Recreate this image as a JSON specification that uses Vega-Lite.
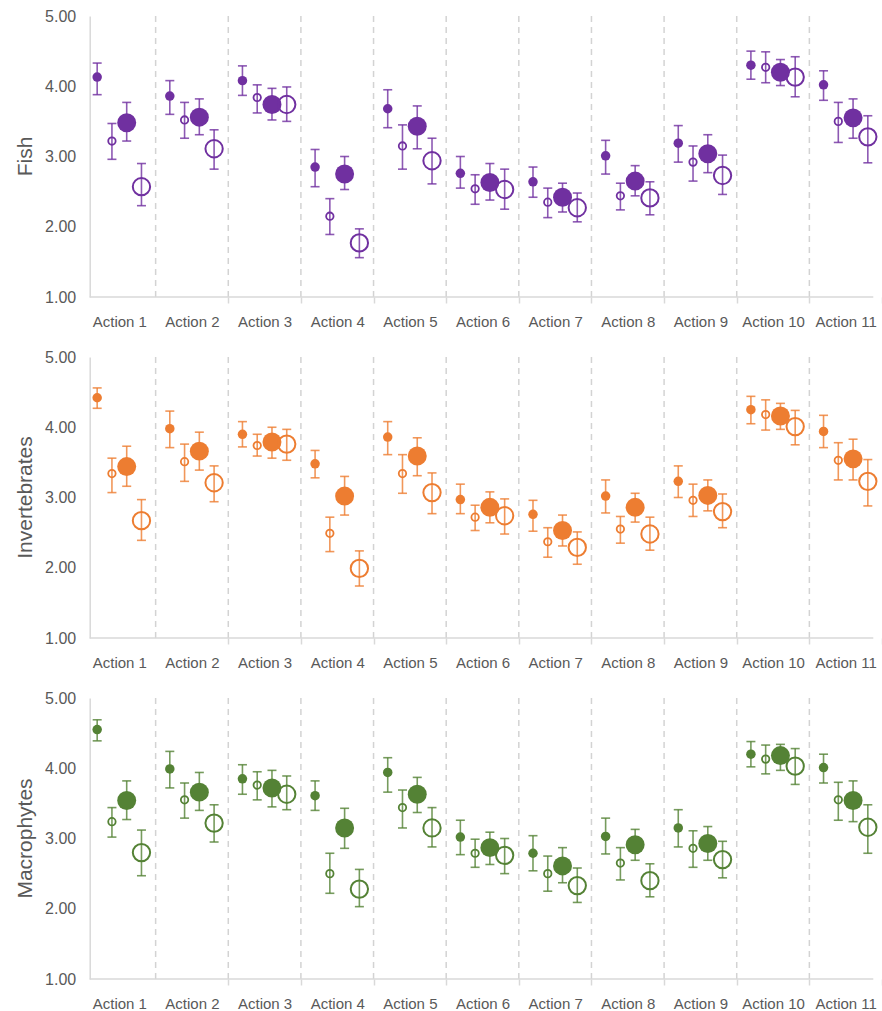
{
  "$schema": "https://vega.github.io/schema/vega-lite/v6.json",
  "padding": {"left": 14, "top": 8, "right": 0, "bottom": 3},
  "background": "white",
  "config": {"view": {"stroke": null}, "font": "Liberation Sans"},
  "data": {"values": [
    {"t":"Fish","a":"Action 1","k":"sf","m":4.13,"lo":3.88,"hi":4.33},
    {"t":"Fish","a":"Action 1","k":"so","m":3.22,"lo":2.96,"hi":3.47},
    {"t":"Fish","a":"Action 1","k":"lf","m":3.48,"lo":3.22,"hi":3.77},
    {"t":"Fish","a":"Action 1","k":"lo","m":2.57,"lo":2.30,"hi":2.90},
    {"t":"Fish","a":"Action 2","k":"sf","m":3.86,"lo":3.60,"hi":4.08},
    {"t":"Fish","a":"Action 2","k":"so","m":3.52,"lo":3.26,"hi":3.77},
    {"t":"Fish","a":"Action 2","k":"lf","m":3.56,"lo":3.31,"hi":3.82},
    {"t":"Fish","a":"Action 2","k":"lo","m":3.11,"lo":2.82,"hi":3.38},
    {"t":"Fish","a":"Action 3","k":"sf","m":4.08,"lo":3.87,"hi":4.29},
    {"t":"Fish","a":"Action 3","k":"so","m":3.84,"lo":3.62,"hi":4.02},
    {"t":"Fish","a":"Action 3","k":"lf","m":3.74,"lo":3.52,"hi":3.97},
    {"t":"Fish","a":"Action 3","k":"lo","m":3.74,"lo":3.50,"hi":3.99},
    {"t":"Fish","a":"Action 4","k":"sf","m":2.85,"lo":2.57,"hi":3.10},
    {"t":"Fish","a":"Action 4","k":"so","m":2.15,"lo":1.89,"hi":2.40},
    {"t":"Fish","a":"Action 4","k":"lf","m":2.75,"lo":2.53,"hi":3.00},
    {"t":"Fish","a":"Action 4","k":"lo","m":1.77,"lo":1.56,"hi":1.97},
    {"t":"Fish","a":"Action 5","k":"sf","m":3.68,"lo":3.41,"hi":3.95},
    {"t":"Fish","a":"Action 5","k":"so","m":3.15,"lo":2.82,"hi":3.45},
    {"t":"Fish","a":"Action 5","k":"lf","m":3.43,"lo":3.11,"hi":3.72},
    {"t":"Fish","a":"Action 5","k":"lo","m":2.94,"lo":2.61,"hi":3.26},
    {"t":"Fish","a":"Action 6","k":"sf","m":2.76,"lo":2.55,"hi":3.00},
    {"t":"Fish","a":"Action 6","k":"so","m":2.54,"lo":2.32,"hi":2.74},
    {"t":"Fish","a":"Action 6","k":"lf","m":2.63,"lo":2.38,"hi":2.90},
    {"t":"Fish","a":"Action 6","k":"lo","m":2.53,"lo":2.25,"hi":2.82},
    {"t":"Fish","a":"Action 7","k":"sf","m":2.64,"lo":2.42,"hi":2.85},
    {"t":"Fish","a":"Action 7","k":"so","m":2.35,"lo":2.13,"hi":2.55},
    {"t":"Fish","a":"Action 7","k":"lf","m":2.42,"lo":2.21,"hi":2.62},
    {"t":"Fish","a":"Action 7","k":"lo","m":2.27,"lo":2.07,"hi":2.48},
    {"t":"Fish","a":"Action 8","k":"sf","m":3.01,"lo":2.75,"hi":3.23},
    {"t":"Fish","a":"Action 8","k":"so","m":2.44,"lo":2.24,"hi":2.62},
    {"t":"Fish","a":"Action 8","k":"lf","m":2.65,"lo":2.44,"hi":2.87},
    {"t":"Fish","a":"Action 8","k":"lo","m":2.41,"lo":2.17,"hi":2.64},
    {"t":"Fish","a":"Action 9","k":"sf","m":3.19,"lo":2.92,"hi":3.44},
    {"t":"Fish","a":"Action 9","k":"so","m":2.92,"lo":2.65,"hi":3.15},
    {"t":"Fish","a":"Action 9","k":"lf","m":3.04,"lo":2.77,"hi":3.31},
    {"t":"Fish","a":"Action 9","k":"lo","m":2.73,"lo":2.46,"hi":3.02},
    {"t":"Fish","a":"Action 10","k":"sf","m":4.30,"lo":4.10,"hi":4.50},
    {"t":"Fish","a":"Action 10","k":"so","m":4.27,"lo":4.05,"hi":4.49},
    {"t":"Fish","a":"Action 10","k":"lf","m":4.20,"lo":4.01,"hi":4.38},
    {"t":"Fish","a":"Action 10","k":"lo","m":4.13,"lo":3.85,"hi":4.42},
    {"t":"Fish","a":"Action 11","k":"sf","m":4.02,"lo":3.80,"hi":4.22},
    {"t":"Fish","a":"Action 11","k":"so","m":3.50,"lo":3.20,"hi":3.77},
    {"t":"Fish","a":"Action 11","k":"lf","m":3.55,"lo":3.26,"hi":3.82},
    {"t":"Fish","a":"Action 11","k":"lo","m":3.28,"lo":2.91,"hi":3.58},
    {"t":"Invertebrates","a":"Action 1","k":"sf","m":4.42,"lo":4.27,"hi":4.56},
    {"t":"Invertebrates","a":"Action 1","k":"so","m":3.34,"lo":3.07,"hi":3.56},
    {"t":"Invertebrates","a":"Action 1","k":"lf","m":3.44,"lo":3.16,"hi":3.73},
    {"t":"Invertebrates","a":"Action 1","k":"lo","m":2.67,"lo":2.39,"hi":2.97},
    {"t":"Invertebrates","a":"Action 2","k":"sf","m":3.98,"lo":3.71,"hi":4.23},
    {"t":"Invertebrates","a":"Action 2","k":"so","m":3.51,"lo":3.23,"hi":3.76},
    {"t":"Invertebrates","a":"Action 2","k":"lf","m":3.66,"lo":3.39,"hi":3.93},
    {"t":"Invertebrates","a":"Action 2","k":"lo","m":3.21,"lo":2.94,"hi":3.45},
    {"t":"Invertebrates","a":"Action 3","k":"sf","m":3.90,"lo":3.72,"hi":4.08},
    {"t":"Invertebrates","a":"Action 3","k":"so","m":3.74,"lo":3.59,"hi":3.90},
    {"t":"Invertebrates","a":"Action 3","k":"lf","m":3.79,"lo":3.56,"hi":4.00},
    {"t":"Invertebrates","a":"Action 3","k":"lo","m":3.76,"lo":3.53,"hi":3.97},
    {"t":"Invertebrates","a":"Action 4","k":"sf","m":3.48,"lo":3.28,"hi":3.67},
    {"t":"Invertebrates","a":"Action 4","k":"so","m":2.49,"lo":2.23,"hi":2.72},
    {"t":"Invertebrates","a":"Action 4","k":"lf","m":3.02,"lo":2.75,"hi":3.30},
    {"t":"Invertebrates","a":"Action 4","k":"lo","m":1.99,"lo":1.74,"hi":2.24},
    {"t":"Invertebrates","a":"Action 5","k":"sf","m":3.86,"lo":3.61,"hi":4.08},
    {"t":"Invertebrates","a":"Action 5","k":"so","m":3.34,"lo":3.06,"hi":3.61},
    {"t":"Invertebrates","a":"Action 5","k":"lf","m":3.59,"lo":3.31,"hi":3.85},
    {"t":"Invertebrates","a":"Action 5","k":"lo","m":3.07,"lo":2.77,"hi":3.35},
    {"t":"Invertebrates","a":"Action 6","k":"sf","m":2.97,"lo":2.77,"hi":3.19},
    {"t":"Invertebrates","a":"Action 6","k":"so","m":2.72,"lo":2.53,"hi":2.89},
    {"t":"Invertebrates","a":"Action 6","k":"lf","m":2.86,"lo":2.64,"hi":3.08},
    {"t":"Invertebrates","a":"Action 6","k":"lo","m":2.74,"lo":2.48,"hi":2.98},
    {"t":"Invertebrates","a":"Action 7","k":"sf","m":2.76,"lo":2.52,"hi":2.96},
    {"t":"Invertebrates","a":"Action 7","k":"so","m":2.37,"lo":2.15,"hi":2.57},
    {"t":"Invertebrates","a":"Action 7","k":"lf","m":2.53,"lo":2.31,"hi":2.75},
    {"t":"Invertebrates","a":"Action 7","k":"lo","m":2.29,"lo":2.05,"hi":2.51},
    {"t":"Invertebrates","a":"Action 8","k":"sf","m":3.02,"lo":2.78,"hi":3.25},
    {"t":"Invertebrates","a":"Action 8","k":"so","m":2.55,"lo":2.35,"hi":2.73},
    {"t":"Invertebrates","a":"Action 8","k":"lf","m":2.86,"lo":2.65,"hi":3.06},
    {"t":"Invertebrates","a":"Action 8","k":"lo","m":2.48,"lo":2.25,"hi":2.72},
    {"t":"Invertebrates","a":"Action 9","k":"sf","m":3.23,"lo":3.00,"hi":3.45},
    {"t":"Invertebrates","a":"Action 9","k":"so","m":2.96,"lo":2.73,"hi":3.19},
    {"t":"Invertebrates","a":"Action 9","k":"lf","m":3.03,"lo":2.81,"hi":3.25},
    {"t":"Invertebrates","a":"Action 9","k":"lo","m":2.80,"lo":2.57,"hi":3.05},
    {"t":"Invertebrates","a":"Action 10","k":"sf","m":4.25,"lo":4.05,"hi":4.44},
    {"t":"Invertebrates","a":"Action 10","k":"so","m":4.18,"lo":3.96,"hi":4.39},
    {"t":"Invertebrates","a":"Action 10","k":"lf","m":4.16,"lo":3.97,"hi":4.34},
    {"t":"Invertebrates","a":"Action 10","k":"lo","m":4.01,"lo":3.75,"hi":4.24},
    {"t":"Invertebrates","a":"Action 11","k":"sf","m":3.94,"lo":3.71,"hi":4.17},
    {"t":"Invertebrates","a":"Action 11","k":"so","m":3.53,"lo":3.25,"hi":3.78},
    {"t":"Invertebrates","a":"Action 11","k":"lf","m":3.55,"lo":3.25,"hi":3.83},
    {"t":"Invertebrates","a":"Action 11","k":"lo","m":3.23,"lo":2.88,"hi":3.54},
    {"t":"Macrophytes","a":"Action 1","k":"sf","m":4.55,"lo":4.39,"hi":4.69},
    {"t":"Macrophytes","a":"Action 1","k":"so","m":3.24,"lo":3.02,"hi":3.44},
    {"t":"Macrophytes","a":"Action 1","k":"lf","m":3.54,"lo":3.27,"hi":3.82},
    {"t":"Macrophytes","a":"Action 1","k":"lo","m":2.80,"lo":2.47,"hi":3.12},
    {"t":"Macrophytes","a":"Action 2","k":"sf","m":3.99,"lo":3.72,"hi":4.24},
    {"t":"Macrophytes","a":"Action 2","k":"so","m":3.55,"lo":3.29,"hi":3.79},
    {"t":"Macrophytes","a":"Action 2","k":"lf","m":3.66,"lo":3.40,"hi":3.94},
    {"t":"Macrophytes","a":"Action 2","k":"lo","m":3.22,"lo":2.95,"hi":3.48},
    {"t":"Macrophytes","a":"Action 3","k":"sf","m":3.85,"lo":3.63,"hi":4.05},
    {"t":"Macrophytes","a":"Action 3","k":"so","m":3.76,"lo":3.55,"hi":3.95},
    {"t":"Macrophytes","a":"Action 3","k":"lf","m":3.72,"lo":3.45,"hi":3.97},
    {"t":"Macrophytes","a":"Action 3","k":"lo","m":3.63,"lo":3.41,"hi":3.89},
    {"t":"Macrophytes","a":"Action 4","k":"sf","m":3.61,"lo":3.40,"hi":3.82},
    {"t":"Macrophytes","a":"Action 4","k":"so","m":2.50,"lo":2.22,"hi":2.79},
    {"t":"Macrophytes","a":"Action 4","k":"lf","m":3.15,"lo":2.86,"hi":3.43},
    {"t":"Macrophytes","a":"Action 4","k":"lo","m":2.28,"lo":2.03,"hi":2.56},
    {"t":"Macrophytes","a":"Action 5","k":"sf","m":3.94,"lo":3.66,"hi":4.15},
    {"t":"Macrophytes","a":"Action 5","k":"so","m":3.44,"lo":3.15,"hi":3.69},
    {"t":"Macrophytes","a":"Action 5","k":"lf","m":3.63,"lo":3.37,"hi":3.87},
    {"t":"Macrophytes","a":"Action 5","k":"lo","m":3.15,"lo":2.88,"hi":3.44},
    {"t":"Macrophytes","a":"Action 6","k":"sf","m":3.02,"lo":2.77,"hi":3.26},
    {"t":"Macrophytes","a":"Action 6","k":"so","m":2.79,"lo":2.59,"hi":2.99},
    {"t":"Macrophytes","a":"Action 6","k":"lf","m":2.87,"lo":2.63,"hi":3.09},
    {"t":"Macrophytes","a":"Action 6","k":"lo","m":2.76,"lo":2.50,"hi":3.00},
    {"t":"Macrophytes","a":"Action 7","k":"sf","m":2.79,"lo":2.54,"hi":3.04},
    {"t":"Macrophytes","a":"Action 7","k":"so","m":2.50,"lo":2.25,"hi":2.75},
    {"t":"Macrophytes","a":"Action 7","k":"lf","m":2.61,"lo":2.37,"hi":2.87},
    {"t":"Macrophytes","a":"Action 7","k":"lo","m":2.33,"lo":2.09,"hi":2.58},
    {"t":"Macrophytes","a":"Action 8","k":"sf","m":3.03,"lo":2.78,"hi":3.29},
    {"t":"Macrophytes","a":"Action 8","k":"so","m":2.65,"lo":2.41,"hi":2.87},
    {"t":"Macrophytes","a":"Action 8","k":"lf","m":2.91,"lo":2.69,"hi":3.13},
    {"t":"Macrophytes","a":"Action 8","k":"lo","m":2.40,"lo":2.17,"hi":2.64},
    {"t":"Macrophytes","a":"Action 9","k":"sf","m":3.15,"lo":2.88,"hi":3.41},
    {"t":"Macrophytes","a":"Action 9","k":"so","m":2.86,"lo":2.59,"hi":3.11},
    {"t":"Macrophytes","a":"Action 9","k":"lf","m":2.93,"lo":2.69,"hi":3.17},
    {"t":"Macrophytes","a":"Action 9","k":"lo","m":2.70,"lo":2.44,"hi":2.96},
    {"t":"Macrophytes","a":"Action 10","k":"sf","m":4.20,"lo":4.02,"hi":4.38},
    {"t":"Macrophytes","a":"Action 10","k":"so","m":4.13,"lo":3.92,"hi":4.33},
    {"t":"Macrophytes","a":"Action 10","k":"lf","m":4.18,"lo":3.97,"hi":4.34},
    {"t":"Macrophytes","a":"Action 10","k":"lo","m":4.03,"lo":3.77,"hi":4.28},
    {"t":"Macrophytes","a":"Action 11","k":"sf","m":4.01,"lo":3.79,"hi":4.20},
    {"t":"Macrophytes","a":"Action 11","k":"so","m":3.55,"lo":3.26,"hi":3.80},
    {"t":"Macrophytes","a":"Action 11","k":"lf","m":3.54,"lo":3.24,"hi":3.82},
    {"t":"Macrophytes","a":"Action 11","k":"lo","m":3.16,"lo":2.79,"hi":3.48}
  ]},
  "facet": {
    "row": {
      "field": "t", "type": "nominal",
      "sort": ["Fish", "Invertebrates", "Macrophytes"],
      "header": {"title": null, "labelAngle": -90, "labelOrient": "left", "labelAnchor": "middle",
                 "labelFontSize": 21, "labelColor": "#595959", "labelFont": "Liberation Sans", "labelPadding": -2}
    }
  },
  "spacing": 27,
  "resolve": {"axis": {"x": "independent"}},
  "spec": {
    "width": 799,
    "height": 281,
    "encoding": {
      "x": {"field": "a", "type": "nominal",
            "scale": {"domain": ["Action 1","Action 2","Action 3","Action 4","Action 5","Action 6","Action 7","Action 8","Action 9","Action 10","Action 11"], "paddingInner": 0, "paddingOuter": 0},
            "axis": {"title": null, "labelAngle": 0, "labelFontSize": 15, "labelColor": "#595959", "labelPadding": 11,
                     "tickBand": "extent", "tickSize": 6, "tickColor": "#D9D9D9", "tickWidth": 1.5,
                     "tickOpacity": {"condition": {"test": "datum.value == 'Action 1' || datum.extra", "value": 0}, "value": 1},
                     "domain": false, "grid": false}},
      "y": {"type": "quantitative",
            "scale": {"domain": [1, 5], "nice": false, "zero": false},
            "axis": {"title": null, "values": [1, 2, 3, 4, 5], "format": ".2f", "labelFontSize": 16, "labelColor": "#595959",
                     "offset": -6.7, "ticks": false, "labelPadding": 14, "domainColor": "#D9D9D9", "domainWidth": 1.5, "grid": false}},
      "xOffset": {"field": "k", "type": "nominal", "scale": {"domain": ["sf", "so", "lf", "lo"], "paddingInner": 0, "paddingOuter": 0.46}},
      "color": {"field": "t", "type": "nominal", "legend": null,
                "scale": {"domain": ["Fish", "Invertebrates", "Macrophytes"], "range": ["#7030A0", "#ED7D31", "#548235"]}}
    },
    "layer": [
      {
        "transform": [{"filter": "datum.k == 'sf' && datum.a != 'Action 1'"}],
        "mark": {"type": "rule", "strokeDash": [6, 5], "strokeWidth": 1.5},
        "encoding": {
          "x": {"field": "a", "type": "nominal", "bandPosition": 0},
          "xOffset": null,
          "color": {"value": "#D3D3D3"}
        }
      },
      {
        "transform": [{"filter": "datum.k == 'sf' && datum.a == 'Action 1'"}],
        "mark": {"type": "rule", "strokeWidth": 1.5},
        "encoding": {
          "x": {"datum": "Action 1", "type": "nominal", "bandPosition": 0.092},
          "x2": {"datum": "Action 11", "bandPosition": 0.88},
          "xOffset": null,
          "y": {"datum": 1},
          "color": {"value": "#D9D9D9"}
        }
      },
      {
        "mark": {"type": "rule", "strokeWidth": 1.6, "opacity": 0.8},
        "encoding": {"y": {"field": "lo"}, "y2": {"field": "hi"}}
      },
      {
        "mark": {"type": "tick", "orient": "horizontal", "size": 9, "thickness": 1.6, "opacity": 0.8},
        "encoding": {"y": {"field": "lo"}}
      },
      {
        "mark": {"type": "tick", "orient": "horizontal", "size": 9, "thickness": 1.6, "opacity": 0.8},
        "encoding": {"y": {"field": "hi"}}
      },
      {
        "transform": [{"filter": "datum.k == 'sf'"}],
        "mark": {"type": "point", "shape": "circle", "filled": true, "opacity": 1, "size": 90},
        "encoding": {"y": {"field": "m"}}
      },
      {
        "transform": [{"filter": "datum.k == 'so'"}],
        "mark": {"type": "point", "shape": "circle", "filled": false, "strokeWidth": 1.8, "opacity": 1, "size": 55},
        "encoding": {"y": {"field": "m"}}
      },
      {
        "transform": [{"filter": "datum.k == 'lf'"}],
        "mark": {"type": "point", "shape": "circle", "filled": true, "opacity": 1, "size": 360},
        "encoding": {"y": {"field": "m"}}
      },
      {
        "transform": [{"filter": "datum.k == 'lo'"}],
        "mark": {"type": "point", "shape": "circle", "filled": false, "strokeWidth": 2, "opacity": 1, "size": 300},
        "encoding": {"y": {"field": "m"}}
      }
    ]
  }
}
